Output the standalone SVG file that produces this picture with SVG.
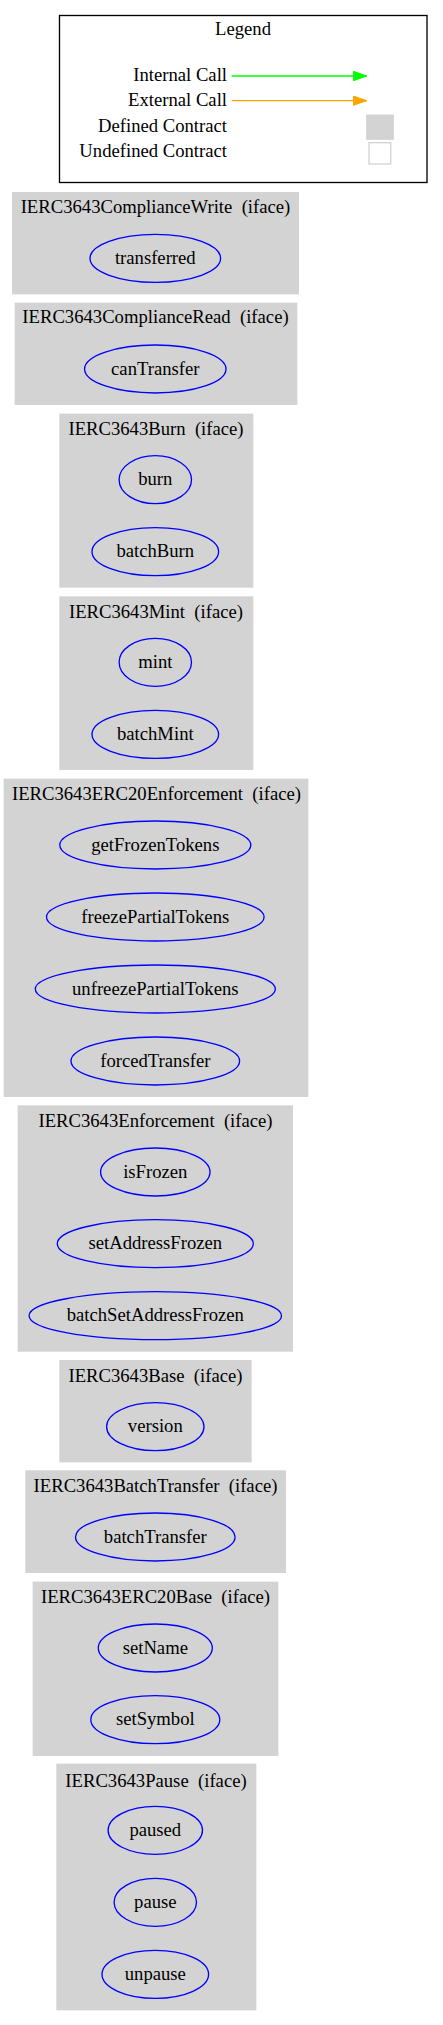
<svg xmlns="http://www.w3.org/2000/svg" width="443" height="2025" viewBox="0 0 443 2025">
<style>
text{font-family:"Liberation Serif","Times New Roman",serif;font-size:18.67px;fill:#000;white-space:pre}
.c{text-anchor:middle}
.r{text-anchor:end}
.cl{fill:#d3d3d3;stroke:#d3d3d3;stroke-width:1.33}
.fn{fill:none;stroke:#0000ff;stroke-width:1.33}
</style>
<defs>
<marker id="ag" markerWidth="14" markerHeight="10" refX="13.3" refY="4.67" orient="auto" markerUnits="userSpaceOnUse"><polygon points="0,0 13.3,4.67 0,9.33" fill="#00ff00" stroke="#00ff00"/></marker>
<marker id="ao" markerWidth="14" markerHeight="10" refX="13.3" refY="4.67" orient="auto" markerUnits="userSpaceOnUse"><polygon points="0,0 13.3,4.67 0,9.33" fill="#ffa500" stroke="#ffa500"/></marker>
</defs>
<rect width="443" height="2025" fill="#fff"/>
<g id="legend">
<rect x="59.5" y="15.5" width="367.5" height="167" fill="none" stroke="#000" stroke-width="1.33"/>
<text class="c" x="243" y="35">Legend</text>
<text class="r" x="227" y="81">Internal Call</text>
<text class="r" x="227" y="106">External Call</text>
<text class="r" x="227" y="131.5">Defined Contract</text>
<text class="r" x="227" y="157">Undefined Contract</text>
<rect x="366.7" y="115" width="26.6" height="24.3" fill="#d3d3d3" stroke="#d3d3d3"/>
<rect x="369" y="142.7" width="21.7" height="21.3" fill="#fff" stroke="#d3d3d3" stroke-width="1.33"/>
</g>
<g id="connectors">
<line x1="231.7" y1="76" x2="366.7" y2="76" stroke="#00ff00" stroke-width="1.33" marker-end="url(#ag)"/>
<line x1="231.7" y1="100.7" x2="366.7" y2="100.7" stroke="#ffa500" stroke-width="1.33" marker-end="url(#ao)"/>
</g>
<g id="IERC3643ComplianceWrite">
<rect class="cl" x="12.7" y="192.7" width="285.6" height="101"/>
<text class="c" x="155.5" y="213.3">IERC3643ComplianceWrite  (iface)</text>
<ellipse class="fn" cx="155.3" cy="258.3" rx="65.3" ry="24"/>
<text class="c" x="155.3" y="264">transferred</text>
</g>
<g id="IERC3643ComplianceRead">
<rect class="cl" x="15.3" y="303.3" width="281.4" height="101"/>
<text class="c" x="155.5" y="323.3">IERC3643ComplianceRead  (iface)</text>
<ellipse class="fn" cx="155.3" cy="369" rx="70.7" ry="24"/>
<text class="c" x="155.3" y="374.7">canTransfer</text>
</g>
<g id="IERC3643Burn">
<rect class="cl" x="60" y="414.3" width="192.7" height="172.7"/>
<text class="c" x="156" y="435">IERC3643Burn  (iface)</text>
<ellipse class="fn" cx="155.3" cy="479.7" rx="36.2" ry="24"/>
<text class="c" x="155.3" y="485.4">burn</text>
<ellipse class="fn" cx="155.3" cy="551.7" rx="63.3" ry="24"/>
<text class="c" x="155.3" y="557.4">batchBurn</text>
</g>
<g id="IERC3643Mint">
<rect class="cl" x="60" y="597" width="192.7" height="172.3"/>
<text class="c" x="156" y="618.3">IERC3643Mint  (iface)</text>
<ellipse class="fn" cx="155.3" cy="662.3" rx="36.2" ry="24"/>
<text class="c" x="155.3" y="668">mint</text>
<ellipse class="fn" cx="155.3" cy="734.3" rx="63.3" ry="24"/>
<text class="c" x="155.3" y="740">batchMint</text>
</g>
<g id="IERC3643ERC20Enforcement">
<rect class="cl" x="4.3" y="779.3" width="303.4" height="317"/>
<text class="c" x="156.5" y="800">IERC3643ERC20Enforcement  (iface)</text>
<ellipse class="fn" cx="155.3" cy="845" rx="95.5" ry="24"/>
<text class="c" x="155.3" y="850.7">getFrozenTokens</text>
<ellipse class="fn" cx="155.3" cy="917" rx="108.8" ry="24"/>
<text class="c" x="155.3" y="922.7">freezePartialTokens</text>
<ellipse class="fn" cx="155.3" cy="989" rx="120" ry="24"/>
<text class="c" x="155.3" y="994.7">unfreezePartialTokens</text>
<ellipse class="fn" cx="155.3" cy="1061" rx="84.3" ry="24"/>
<text class="c" x="155.3" y="1066.7">forcedTransfer</text>
</g>
<g id="IERC3643Enforcement">
<rect class="cl" x="18.3" y="1106" width="274" height="245"/>
<text class="c" x="155.5" y="1126.7">IERC3643Enforcement  (iface)</text>
<ellipse class="fn" cx="155.3" cy="1172" rx="54.7" ry="24"/>
<text class="c" x="155.3" y="1177.7">isFrozen</text>
<ellipse class="fn" cx="155.3" cy="1243.7" rx="98" ry="24"/>
<text class="c" x="155.3" y="1249.4">setAddressFrozen</text>
<ellipse class="fn" cx="155.3" cy="1315.7" rx="126.2" ry="24"/>
<text class="c" x="155.3" y="1321.4">batchSetAddressFrozen</text>
</g>
<g id="IERC3643Base">
<rect class="cl" x="60" y="1360.7" width="191" height="101"/>
<text class="c" x="155.5" y="1381.7">IERC3643Base  (iface)</text>
<ellipse class="fn" cx="155.3" cy="1426.7" rx="48.7" ry="24"/>
<text class="c" x="155.3" y="1432.4">version</text>
</g>
<g id="IERC3643BatchTransfer">
<rect class="cl" x="26" y="1471" width="259.3" height="101.3"/>
<text class="c" x="155.5" y="1491.7">IERC3643BatchTransfer  (iface)</text>
<ellipse class="fn" cx="155.3" cy="1537" rx="79.8" ry="24"/>
<text class="c" x="155.3" y="1542.7">batchTransfer</text>
</g>
<g id="IERC3643ERC20Base">
<rect class="cl" x="33.3" y="1582.3" width="244.4" height="173"/>
<text class="c" x="155.5" y="1602.7">IERC3643ERC20Base  (iface)</text>
<ellipse class="fn" cx="155.3" cy="1648" rx="57" ry="24"/>
<text class="c" x="155.3" y="1653.7">setName</text>
<ellipse class="fn" cx="155.3" cy="1719.7" rx="64.5" ry="24"/>
<text class="c" x="155.3" y="1725.4">setSymbol</text>
</g>
<g id="IERC3643Pause">
<rect class="cl" x="57" y="1764.3" width="198.7" height="245.4"/>
<text class="c" x="156" y="1786.7">IERC3643Pause  (iface)</text>
<ellipse class="fn" cx="155.3" cy="1830.3" rx="47.2" ry="24"/>
<text class="c" x="155.3" y="1836">paused</text>
<ellipse class="fn" cx="155.3" cy="1902.3" rx="41.2" ry="24"/>
<text class="c" x="155.3" y="1908">pause</text>
<ellipse class="fn" cx="155.3" cy="1974.3" rx="53.3" ry="24"/>
<text class="c" x="155.3" y="1980">unpause</text>
</g>
</svg>
